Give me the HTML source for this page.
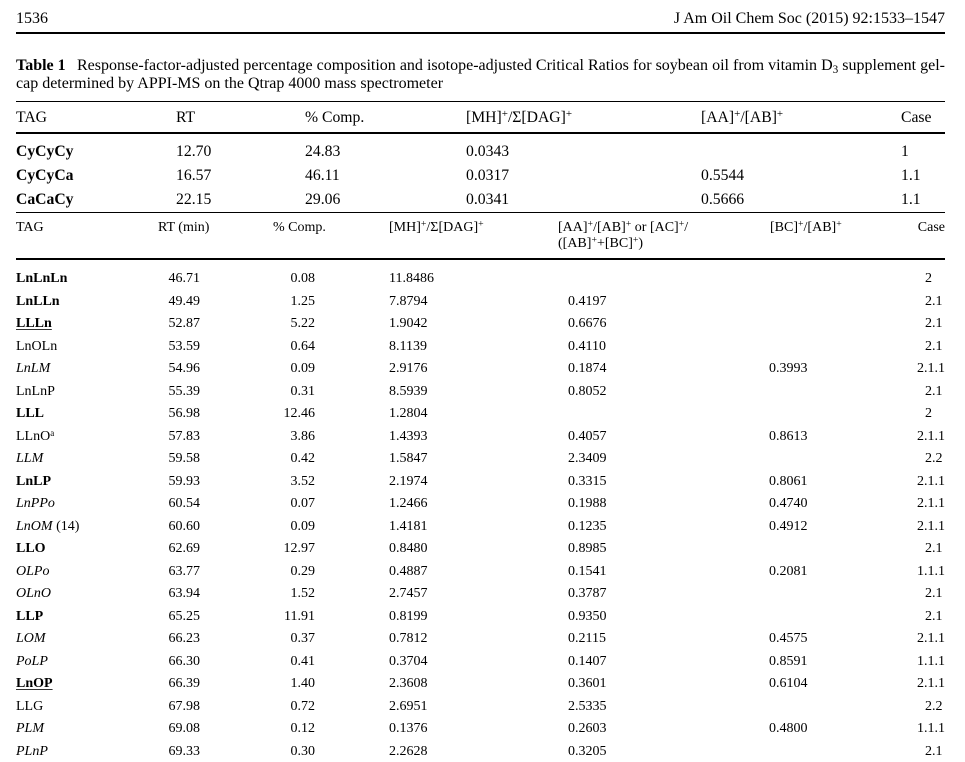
<!DOCTYPE html>
<html>
<head>
<meta charset="utf-8">
<style>
  html, body { margin:0; padding:0; }
  body { width:965px; height:759px; position:relative; background:#fff; overflow:hidden;
         font-family:"Liberation Serif", "Times New Roman", serif; color:#000; }
  .a { position:absolute; white-space:nowrap; }
  .rule { position:absolute; left:16px; width:929px; background:#000; }
  sup { font-size:0.7em; line-height:0; vertical-align:0.45em; }
  sub { font-size:0.7em; line-height:0; vertical-align:-0.25em; }
  .cap1 { position:absolute; left:77px; top:57px; width:868px; height:18px; line-height:18px;
          font-size:16px; display:flex; justify-content:space-between; white-space:nowrap; }
  .r1 { position:absolute; left:0; width:965px; height:22px; line-height:22px; font-size:15.7px; }
  .r1 span { position:absolute; top:0; white-space:nowrap; }
  .r { position:absolute; left:0; width:965px; height:20px; line-height:20px; font-size:14px; }
  .r span { position:absolute; top:0; white-space:nowrap; }
  .c1 { left:16px; }
  .c2 { right:765px; }
  .c3 { right:650px; }
  .c4 { left:389px; }
  .c5 { left:568px; }
  .c6 { left:769px; }
  .k1 { left:925px; }
  .k3 { left:917px; }
  .u { text-decoration:underline; text-underline-offset:2px; text-decoration-color:#333; }
</style>
</head>
<body>

<!-- page header -->
<div class="a" style="left:16px; top:10px; font-size:16px; line-height:18px;">1536</div>
<div class="a" style="right:20px; top:10px; font-size:16px; line-height:18px;">J Am Oil Chem Soc (2015) 92:1533–1547</div>
<div class="rule" style="top:32px; height:2px;"></div>

<!-- caption -->
<div class="a" style="left:16px; top:57px; font-size:16px; line-height:18px;"><b>Table 1</b></div>
<div class="cap1"><span>Response-factor-adjusted</span><span>percentage</span><span>composition</span><span>and</span><span>isotope-adjusted</span><span>Critical</span><span>Ratios</span><span>for</span><span>soybean</span><span>oil</span><span>from</span><span>vitamin</span><span>D<sub>3</sub></span><span>supplement</span><span>gel-</span></div>
<div class="a" style="left:16px; top:75px; font-size:16px; line-height:18px;">cap determined by APPI-MS on the Qtrap 4000 mass spectrometer</div>

<!-- first table -->
<div class="rule" style="top:101px; height:1px;"></div>
<div class="r1" style="top:107px;">
  <span style="left:16px;">TAG</span>
  <span style="left:176px;">RT</span>
  <span style="left:305px;">% Comp.</span>
  <span style="left:466px;">[MH]<sup>+</sup>/Σ[DAG]<sup>+</sup></span>
  <span style="left:701px;">[AA]<sup>+</sup>/[AB]<sup>+</sup></span>
  <span style="left:901px;">Case</span>
</div>
<div class="rule" style="top:132px; height:2px;"></div>

<div class="r1" style="top:141px;">
  <span style="left:16px;"><b>CyCyCy</b></span>
  <span style="left:176px;">12.70</span>
  <span style="left:305px;">24.83</span>
  <span style="left:466px;">0.0343</span>
  <span style="left:901px;">1</span>
</div>
<div class="r1" style="top:165px;">
  <span style="left:16px;"><b>CyCyCa</b></span>
  <span style="left:176px;">16.57</span>
  <span style="left:305px;">46.11</span>
  <span style="left:466px;">0.0317</span>
  <span style="left:701px;">0.5544</span>
  <span style="left:901px;">1.1</span>
</div>
<div class="r1" style="top:189px;">
  <span style="left:16px;"><b>CaCaCy</b></span>
  <span style="left:176px;">22.15</span>
  <span style="left:305px;">29.06</span>
  <span style="left:466px;">0.0341</span>
  <span style="left:701px;">0.5666</span>
  <span style="left:901px;">1.1</span>
</div>
<div class="rule" style="top:212px; height:1px;"></div>

<!-- second header -->
<div class="a" style="left:0; top:220px; width:965px; height:16px; line-height:16px; font-size:14px;">
  <span class="a" style="left:16px;">TAG</span>
  <span class="a" style="left:158px;">RT (min)</span>
  <span class="a" style="left:273px;">% Comp.</span>
  <span class="a" style="left:389px;">[MH]<sup>+</sup>/Σ[DAG]<sup>+</sup></span>
  <span class="a" style="left:558px;">[AA]<sup>+</sup>/[AB]<sup>+</sup> or [AC]<sup>+</sup>/</span>
  <span class="a" style="left:770px;">[BC]<sup>+</sup>/[AB]<sup>+</sup></span>
  <span class="a" style="right:20px;">Case</span>
</div>
<div class="a" style="left:558px; top:236px; height:16px; line-height:16px; font-size:14px;">([AB]<sup>+</sup>+[BC]<sup>+</sup>)</div>
<div class="rule" style="top:258px; height:2px;"></div>

<!-- data rows -->
<div class="r" style="top:269px;"><span class="c1"><b>LnLnLn</b></span><span class="c2">46.71</span><span class="c3">0.08</span><span class="c4">11.8486</span><span class="k1">2</span></div>
<div class="r" style="top:291.5px;"><span class="c1"><b>LnLLn</b></span><span class="c2">49.49</span><span class="c3">1.25</span><span class="c4">7.8794</span><span class="c5">0.4197</span><span class="k1">2.1</span></div>
<div class="r" style="top:314px;"><span class="c1"><b class="u">LLLn</b></span><span class="c2">52.87</span><span class="c3">5.22</span><span class="c4">1.9042</span><span class="c5">0.6676</span><span class="k1">2.1</span></div>
<div class="r" style="top:336.5px;"><span class="c1">LnOLn</span><span class="c2">53.59</span><span class="c3">0.64</span><span class="c4">8.1139</span><span class="c5">0.4110</span><span class="k1">2.1</span></div>
<div class="r" style="top:359px;"><span class="c1"><i>LnLM</i></span><span class="c2">54.96</span><span class="c3">0.09</span><span class="c4">2.9176</span><span class="c5">0.1874</span><span class="c6">0.3993</span><span class="k3">2.1.1</span></div>
<div class="r" style="top:381.5px;"><span class="c1">LnLnP</span><span class="c2">55.39</span><span class="c3">0.31</span><span class="c4">8.5939</span><span class="c5">0.8052</span><span class="k1">2.1</span></div>
<div class="r" style="top:404px;"><span class="c1"><b>LLL</b></span><span class="c2">56.98</span><span class="c3">12.46</span><span class="c4">1.2804</span><span class="k1">2</span></div>
<div class="r" style="top:426.5px;"><span class="c1">LLnO<sup style="font-size:9px;">a</sup></span><span class="c2">57.83</span><span class="c3">3.86</span><span class="c4">1.4393</span><span class="c5">0.4057</span><span class="c6">0.8613</span><span class="k3">2.1.1</span></div>
<div class="r" style="top:449px;"><span class="c1"><i>LLM</i></span><span class="c2">59.58</span><span class="c3">0.42</span><span class="c4">1.5847</span><span class="c5">2.3409</span><span class="k1">2.2</span></div>
<div class="r" style="top:471.5px;"><span class="c1"><b>LnLP</b></span><span class="c2">59.93</span><span class="c3">3.52</span><span class="c4">2.1974</span><span class="c5">0.3315</span><span class="c6">0.8061</span><span class="k3">2.1.1</span></div>
<div class="r" style="top:494px;"><span class="c1"><i>LnPPo</i></span><span class="c2">60.54</span><span class="c3">0.07</span><span class="c4">1.2466</span><span class="c5">0.1988</span><span class="c6">0.4740</span><span class="k3">2.1.1</span></div>
<div class="r" style="top:516.5px;"><span class="c1"><i>LnOM</i> (14)</span><span class="c2">60.60</span><span class="c3">0.09</span><span class="c4">1.4181</span><span class="c5">0.1235</span><span class="c6">0.4912</span><span class="k3">2.1.1</span></div>
<div class="r" style="top:539px;"><span class="c1"><b>LLO</b></span><span class="c2">62.69</span><span class="c3">12.97</span><span class="c4">0.8480</span><span class="c5">0.8985</span><span class="k1">2.1</span></div>
<div class="r" style="top:561.5px;"><span class="c1"><i>OLPo</i></span><span class="c2">63.77</span><span class="c3">0.29</span><span class="c4">0.4887</span><span class="c5">0.1541</span><span class="c6">0.2081</span><span class="k3">1.1.1</span></div>
<div class="r" style="top:584px;"><span class="c1"><i>OLnO</i></span><span class="c2">63.94</span><span class="c3">1.52</span><span class="c4">2.7457</span><span class="c5">0.3787</span><span class="k1">2.1</span></div>
<div class="r" style="top:606.5px;"><span class="c1"><b>LLP</b></span><span class="c2">65.25</span><span class="c3">11.91</span><span class="c4">0.8199</span><span class="c5">0.9350</span><span class="k1">2.1</span></div>
<div class="r" style="top:629px;"><span class="c1"><i>LOM</i></span><span class="c2">66.23</span><span class="c3">0.37</span><span class="c4">0.7812</span><span class="c5">0.2115</span><span class="c6">0.4575</span><span class="k3">2.1.1</span></div>
<div class="r" style="top:651.5px;"><span class="c1"><i>PoLP</i></span><span class="c2">66.30</span><span class="c3">0.41</span><span class="c4">0.3704</span><span class="c5">0.1407</span><span class="c6">0.8591</span><span class="k3">1.1.1</span></div>
<div class="r" style="top:674px;"><span class="c1"><b class="u">LnOP</b></span><span class="c2">66.39</span><span class="c3">1.40</span><span class="c4">2.3608</span><span class="c5">0.3601</span><span class="c6">0.6104</span><span class="k3">2.1.1</span></div>
<div class="r" style="top:696.5px;"><span class="c1">LLG</span><span class="c2">67.98</span><span class="c3">0.72</span><span class="c4">2.6951</span><span class="c5">2.5335</span><span class="k1">2.2</span></div>
<div class="r" style="top:719px;"><span class="c1"><i>PLM</i></span><span class="c2">69.08</span><span class="c3">0.12</span><span class="c4">0.1376</span><span class="c5">0.2603</span><span class="c6">0.4800</span><span class="k3">1.1.1</span></div>
<div class="r" style="top:741.5px;"><span class="c1"><i>PLnP</i></span><span class="c2">69.33</span><span class="c3">0.30</span><span class="c4">2.2628</span><span class="c5">0.3205</span><span class="k1">2.1</span></div>

</body>
</html>
